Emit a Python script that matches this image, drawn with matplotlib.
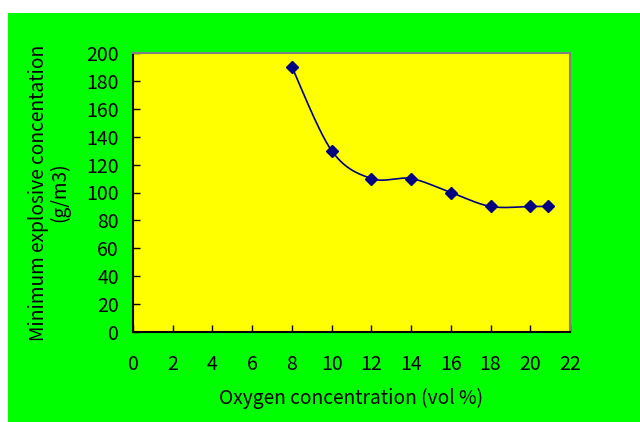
import numpy as np
import matplotlib
matplotlib.use('Agg')
import matplotlib.pyplot as plt
from matplotlib.patches import Rectangle

plt.rcParams['font.family'] = ['Noto Sans CJK JP', 'DejaVu Sans']

# Data
oxygen = [8, 10, 12, 14, 16, 18, 20, 20.9]
min_conc = [190, 130, 110, 110, 100, 90, 90, 90]
x_ticks = list(range(0, 23, 2))
y_ticks = list(range(0, 201, 20))


def smooth_curve(xs, ys, n=40):
    """Excel-like smoothed line (Catmull-Rom as cubic Bezier)"""
    p = np.column_stack([xs, ys]).astype(float)
    pts = np.vstack([p[0], p, p[-1]])
    t = np.linspace(0, 1, n)[:, None]
    out = []
    for i in range(1, len(pts) - 2):
        p0, p3 = pts[i], pts[i + 1]
        c1 = p0 + (pts[i + 1] - pts[i - 1]) / 6
        c2 = p3 - (pts[i + 2] - pts[i]) / 6
        seg = ((1 - t) ** 3 * p0 + 3 * (1 - t) ** 2 * t * c1
               + 3 * (1 - t) * t ** 2 * c2 + t ** 3 * p3)
        out.append(seg)
    out = np.vstack(out)
    return out[:, 0], out[:, 1]


W, H = 640, 422
fig = plt.figure(figsize=(W / 100, H / 100), dpi=100, facecolor='white')
fig.patches.append(Rectangle((8 / W, 0), 1 - 8 / W, 1 - 13 / H,
                             transform=fig.transFigure, facecolor='#00FF00',
                             edgecolor='none', zorder=-10))

ax = fig.add_axes([133 / W, (H - 332) / H, 437 / W, 279 / H])
ax.set_zorder(1)
ax.set_facecolor('#FFFF00')

sx, sy = smooth_curve(oxygen, min_conc)
ax.plot(sx, sy, color='#000080', linewidth=1.2, zorder=3)
ax.plot(oxygen, min_conc, linestyle='none', marker='D', markersize=6.5,
        color='#000080', zorder=4, clip_on=False)

ax.set_xlim(0, 22)
ax.set_ylim(0, 200)
ax.set_xticks(x_ticks)
ax.set_yticks(y_ticks)
ax.tick_params(direction='in', length=5, width=1, labelsize=14, colors='black')
ax.tick_params(axis='x', pad=16)
ax.tick_params(axis='y', pad=10)

for side in ('left', 'bottom'):
    ax.spines[side].set_color('black')
    ax.spines[side].set_linewidth(1.5)
for side in ('top', 'right'):
    ax.spines[side].set_color('#808080')
    ax.spines[side].set_linewidth(1.5)

ax.set_xlabel('Oxygen concentration (vol %)', fontsize=13.8, labelpad=9)
ax.set_ylabel('Minimum explosive concentation\n(g/m3)', fontsize=13.8,
              labelpad=12, linespacing=1.0)

fig.savefig('out.png', dpi=100, facecolor=fig.get_facecolor())
